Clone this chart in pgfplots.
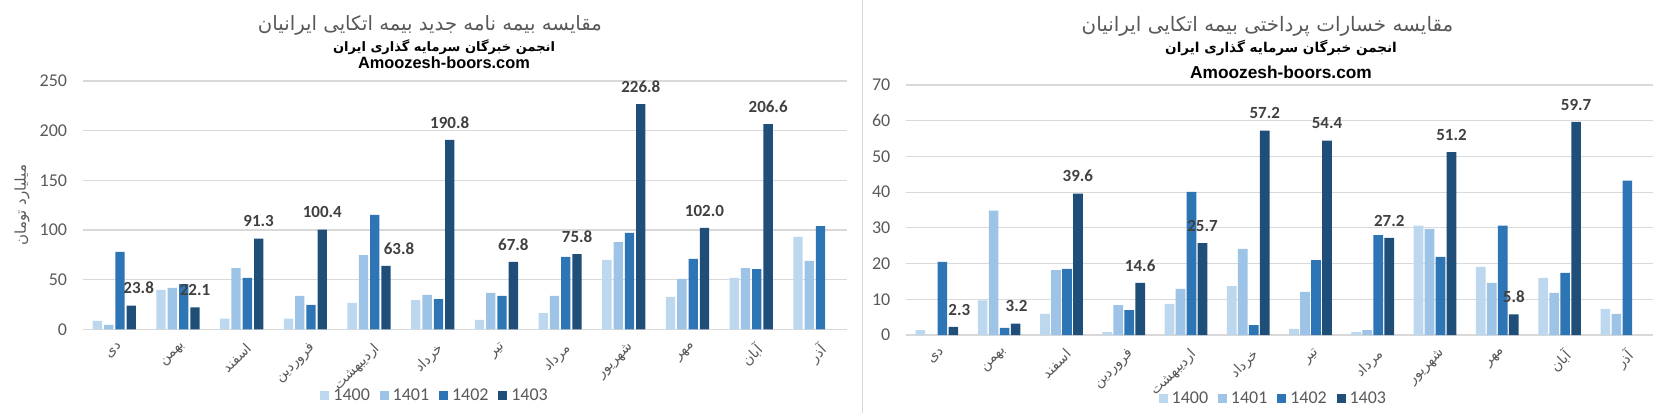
\documentclass[border=0pt]{standalone}
\usepackage{graphicx}
\usepackage{pgfplots}
\pgfplotsset{compat=1.18}
\usepackage{pgfplotstable}
\usepackage{fontspec}
\setmainfont{Carlito}
\newfontfamily\arabicfont[Script=Arabic]{DejaVu Sans}
\newfontfamily\webfont{Liberation Sans}
\TeXXeTstate=1
\newcommand\fa[1]{{\arabicfont\beginR #1\endR}}

\definecolor{c1400}{HTML}{BDD7EE}
\definecolor{c1401}{HTML}{9DC3E6}
\definecolor{c1402}{HTML}{2E75B6}
\definecolor{c1403}{HTML}{1F4E79}
\definecolor{tickgray}{HTML}{595959}
\definecolor{gridgray}{HTML}{D9D9D9}
\definecolor{labelgray}{HTML}{404040}

% new policies (billion toman)
\pgfplotstableread{
x a b c d dx
0 8.4 4.4 77.9 23.8 3.7
1 39.6 41.6 45.6 22.1 0
2 10.7 61.7 51.7 91.3 0
3 10.7 33.6 24.5 100.4 0
4 26.5 74.8 115.1 63.8 6.5
5 29.5 34.6 30.5 190.8 0
6 9.4 36.6 33.6 67.8 0
7 16.4 33.6 72.8 75.8 0
8 69.8 87.9 97.0 226.8 0
9 32.6 50.7 70.8 102.0 0
10 51.7 61.7 60.7 206.6 0
11 93.0 68.8 104.0 nan 0
}\newpolicy

% paid claims
\pgfplotstableread{
x a b c d dx
0 1.4 nan 20.5 2.3 3
1 9.7 34.8 2.0 3.2 0.5
2 5.9 18.2 18.5 39.6 0
3 0.8 8.4 7.0 14.6 0
4 8.7 12.9 40.1 25.7 0
5 13.7 24.1 2.8 57.2 0
6 1.7 12.1 21.0 54.4 0
7 0.8 1.4 28.0 27.2 0
8 30.6 29.7 21.9 51.2 0
9 19.1 14.6 30.6 5.8 0
10 16.0 11.8 17.4 59.7 0
11 7.3 5.9 43.2 nan 0
}\claims

\pgfplotsset{
  excel/.style={
    scale only axis, clip=false,
    xmin=-0.5, xmax=11.5, ymin=0,
    xtick={0,...,11},
    xticklabels={\fa{دی},\fa{بهمن},\fa{اسفند},\fa{فروردین},\fa{اردیبهشت},\fa{خرداد},\fa{تیر},\fa{مرداد},\fa{شهریور},\fa{مهر},\fa{آبان},\fa{آذر}},
    axis x line*=bottom, axis y line*=left,
    x axis line style={draw=gridgray, line width=0.6pt, -},
    y axis line style={draw=none},
    ymajorgrids, grid style={gridgray, line width=0.6pt},
    major tick length=0pt,
    /pgf/number format/assume math mode=true,
    yticklabel style={font=\fontsize{9}{10}\selectfont, text=tickgray, anchor=east, inner sep=0pt, xshift=-7.5pt},
    xticklabel style={font=\arabicfont\fontsize{7}{8}\selectfont, text=tickgray, inner sep=0pt, xshift=1.5pt, yshift=-6pt, rotate=45, anchor=north east},
    legend columns=4,
    legend image code/.code={\fill[##1] (0pt,-2.25pt) rectangle (4.5pt,2.25pt);},
    legend style={draw=none, fill=none, inner sep=0pt, font=\fontsize{9}{10}\selectfont, text=tickgray,
      nodes={inner sep=0pt},
      /tikz/every odd column/.append style={column sep=2pt},
      /tikz/every even column/.append style={column sep=4.9pt}},
  },
  toplabel/.style={
    nodes near coords={\pgfmathprintnumber[fixed,fixed zerofill,precision=1]{\pgfplotspointmeta}},
    visualization depends on={\thisrow{dx}\as\dx},
    every node near coord/.append style={font=\bfseries\fontsize{8.5}{10}\selectfont, text=labelgray, anchor=south, xshift=\dx pt, yshift=2.3pt},
  },
}

\begin{document}
\begin{tikzpicture}
\path[use as bounding box] (0,0) rectangle (834pt,206.5pt);
\draw[gridgray, line width=0.6pt] (431.25pt,0) -- (431.25pt,206.5pt);

% left: new policies
\begin{axis}[
    at={(41.25pt,41.85pt)}, anchor=south west,
    width=382.1pt, height=124.15pt,
    ybar=1pt, bar width=4.65pt,
    excel,
    ymax=250, ytick={0,50,...,250},
    ylabel={\arabicfont\beginR میلیارد تومان\endR},
    ylabel style={at={(axis description cs:-0.0792,0.5)}, anchor=center, font=\arabicfont\fontsize{7.5}{9}\selectfont, text=tickgray},
    legend style={at={(axis description cs:0.3108,-0.2686)}, anchor=west},
  ]
  \addplot[fill=c1400, draw=none] table[x=x, y=a] {\newpolicy};
  \addplot[fill=c1401, draw=none] table[x=x, y=b] {\newpolicy};
  \addplot[fill=c1402, draw=none] table[x=x, y=c] {\newpolicy};
  \addplot[fill=c1403, draw=none, toplabel] table[x=x, y=d] {\newpolicy};
  \legend{1400,1401,1402,1403}
\end{axis}

% right: paid claims
\begin{axis}[
    at={(452.85pt,39pt)}, anchor=south west,
    width=373.65pt, height=125pt,
    ybar=0.65pt, bar width=4.85pt,
    excel,
    ymax=70, ytick={0,10,...,70},
    legend style={at={(axis description cs:0.338,-0.256)}, anchor=west},
  ]
  \addplot[fill=c1400, draw=none] table[x=x, y=a] {\claims};
  \addplot[fill=c1401, draw=none] table[x=x, y=b] {\claims};
  \addplot[fill=c1402, draw=none] table[x=x, y=c] {\claims};
  \addplot[fill=c1403, draw=none, toplabel] table[x=x, y=d] {\claims};
  \legend{1400,1401,1402,1403}
\end{axis}

% titles (widths)
\node[text=tickgray, inner sep=0pt] at (215pt,194pt)
  {\resizebox{172pt}{!}{\arabicfont\fontsize{10}{12}\selectfont\beginR مقایسه بیمه نامه جدید بیمه اتکایی ایرانیان\endR}};
\node[inner sep=0pt] at (222pt,182.75pt)
  {\resizebox{111pt}{!}{\arabicfont\bfseries\fontsize{8}{10}\selectfont\beginR انجمن خبرگان سرمایه گذاری ایران\endR}};
\node[anchor=base, inner sep=0pt] at (222pt,172.35pt)
  {\resizebox{85.85pt}{!}{\webfont\bfseries\fontsize{8.2}{10}\selectfont Amoozesh-boors.com}};

\node[text=tickgray, inner sep=0pt] at (633.75pt,193.5pt)
  {\resizebox{185.8pt}{!}{\arabicfont\fontsize{10}{12}\selectfont\beginR مقایسه خسارات پرداختی بیمه اتکایی ایرانیان\endR}};
\node[inner sep=0pt] at (640.5pt,182.5pt)
  {\resizebox{115.85pt}{!}{\arabicfont\bfseries\fontsize{8}{10}\selectfont\beginR انجمن خبرگان سرمایه گذاری ایران\endR}};
\node[anchor=base, inner sep=0pt] at (640.5pt,167.35pt)
  {\resizebox{90.85pt}{!}{\webfont\bfseries\fontsize{8.65}{10}\selectfont Amoozesh-boors.com}};
\end{tikzpicture}
\end{document}
